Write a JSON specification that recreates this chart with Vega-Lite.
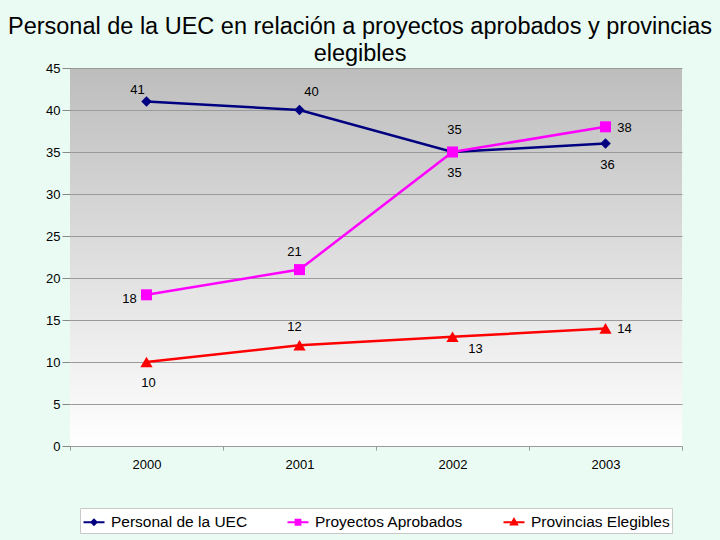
{
  "$schema": "https://vega.github.io/schema/vega-lite/v6.json",
  "width": 612,
  "height": 378,
  "autosize": {"type": "none"},
  "padding": {"left": 70, "top": 68, "right": 38, "bottom": 94},
  "background": "#eafbf3",
  "title": {
    "text": ["Personal de la UEC en relación a proyectos aprobados y provincias", "elegibles"],
    "font": "Liberation Sans",
    "fontSize": 23.5,
    "fontWeight": "normal",
    "color": "#000000",
    "anchor": "middle",
    "dx": -16,
    "offset": -3,
    "lineHeight": 27
  },
  "data": {
    "values": [
      {"year": "2000", "series": "Personal de la UEC", "value": 41},
      {"year": "2001", "series": "Personal de la UEC", "value": 40},
      {"year": "2002", "series": "Personal de la UEC", "value": 35},
      {"year": "2003", "series": "Personal de la UEC", "value": 36},
      {"year": "2000", "series": "Proyectos Aprobados", "value": 18},
      {"year": "2001", "series": "Proyectos Aprobados", "value": 21},
      {"year": "2002", "series": "Proyectos Aprobados", "value": 35},
      {"year": "2003", "series": "Proyectos Aprobados", "value": 38},
      {"year": "2000", "series": "Provincias Elegibles", "value": 10},
      {"year": "2001", "series": "Provincias Elegibles", "value": 12},
      {"year": "2002", "series": "Provincias Elegibles", "value": 13},
      {"year": "2003", "series": "Provincias Elegibles", "value": 14}
    ]
  },
  "encoding": {
    "x": {
      "field": "year",
      "type": "ordinal",
      "scale": {"type": "band", "paddingInner": 0, "paddingOuter": 0},
      "axis": {
        "title": null,
        "labelAngle": 0,
        "labelFont": "Liberation Sans",
        "labelFontSize": 13,
        "labelColor": "#000000",
        "tickBand": "extent",
        "tickColor": "#999999",
        "tickSize": 4,
        "labelPadding": 8,
        "domain": false,
        "grid": false
      }
    },
    "y": {
      "field": "value",
      "type": "quantitative",
      "scale": {"domain": [0, 45], "nice": false},
      "axis": {
        "title": null,
        "values": [0, 5, 10, 15, 20, 25, 30, 35, 40, 45],
        "labelFont": "Liberation Sans",
        "labelFontSize": 13,
        "labelColor": "#000000",
        "tickColor": "#888888",
        "tickSize": 8,
        "labelPadding": 2,
        "domain": false,
        "grid": true,
        "gridColor": "#9a9a9a",
        "gridWidth": 1
      }
    },
    "color": {
      "field": "series",
      "type": "nominal",
      "scale": {
        "domain": ["Personal de la UEC", "Proyectos Aprobados", "Provincias Elegibles"],
        "range": ["#000080", "#ff00ff", "#ff0000"]
      },
      "legend": {
        "title": null,
        "orient": "none",
        "legendX": 10,
        "legendY": 440,
        "direction": "horizontal",
        "columns": 3,
        "columnPadding": 35,
        "labelOffset": 5,
        "symbolSize": 441,
        "symbolStrokeWidth": 2.2,
        "fillColor": "#ffffff",
        "strokeColor": "#c8c8c8",
        "padding": 2,
        "labelFont": "Liberation Sans",
        "labelFontSize": 15.5,
        "labelColor": "#000000",
        "encode": {
          "symbols": {
            "update": {
              "shape": {"signal": "datum.value === 'Personal de la UEC' ? 'M-1,0H1M0,-0.23L0.23,0L0,0.23L-0.23,0Z' : datum.value === 'Proyectos Aprobados' ? 'M-1,0H1M-0.22,-0.22H0.22V0.22H-0.22Z' : 'M-1,0H1M0,-0.29L0.28,0.21H-0.28Z'"},
              "size": {"value": 441},
              "fill": {"scale": "color", "field": "value"},
              "stroke": {"scale": "color", "field": "value"},
              "strokeWidth": {"value": 2.2},
              "opacity": {"value": 1},
              "fillOpacity": {"value": 1},
              "strokeOpacity": {"value": 1}
            }
          }
        }
      }
    }
  },
  "layer": [
    {
      "mark": {"type": "line", "strokeWidth": 2.5}
    },
    {
      "transform": [{"filter": "datum.series === 'Personal de la UEC'"}],
      "mark": {"type": "point", "filled": true, "opacity": 1, "shape": "diamond", "size": 110}
    },
    {
      "transform": [{"filter": "datum.series === 'Proyectos Aprobados'"}],
      "mark": {"type": "point", "filled": true, "opacity": 1, "shape": "square", "size": 121}
    },
    {
      "transform": [{"filter": "datum.series === 'Provincias Elegibles'"}],
      "mark": {"type": "point", "filled": true, "opacity": 1, "shape": "triangle-up", "size": 150}
    },
    {
      "transform": [{"filter": "datum.series === 'Personal de la UEC' && datum.year === '2000'"}],
      "mark": {"type": "text", "font": "Liberation Sans", "fontSize": 13, "dx": -9, "dy": -12, "baseline": "middle"},
      "encoding": {"text": {"field": "value", "type": "quantitative"}, "color": {"value": "#000000"}}
    },
    {
      "transform": [{"filter": "datum.series === 'Personal de la UEC' && datum.year === '2001'"}],
      "mark": {"type": "text", "font": "Liberation Sans", "fontSize": 13, "dx": 12, "dy": -18, "baseline": "middle"},
      "encoding": {"text": {"field": "value", "type": "quantitative"}, "color": {"value": "#000000"}}
    },
    {
      "transform": [{"filter": "datum.series === 'Personal de la UEC' && datum.year === '2002'"}],
      "mark": {"type": "text", "font": "Liberation Sans", "fontSize": 13, "dx": 2, "dy": -22, "baseline": "middle"},
      "encoding": {"text": {"field": "value", "type": "quantitative"}, "color": {"value": "#000000"}}
    },
    {
      "transform": [{"filter": "(datum.series === 'Proyectos Aprobados' || datum.series === 'Provincias Elegibles') && datum.year === '2001'"}],
      "mark": {"type": "text", "font": "Liberation Sans", "fontSize": 13, "dx": -5, "dy": -18, "baseline": "middle"},
      "encoding": {"text": {"field": "value", "type": "quantitative"}, "color": {"value": "#000000"}}
    },
    {
      "transform": [{"filter": "(datum.series === 'Personal de la UEC' && datum.year === '2003') || (datum.series === 'Proyectos Aprobados' && datum.year === '2002') || (datum.series === 'Provincias Elegibles' && datum.year === '2000')"}],
      "mark": {"type": "text", "font": "Liberation Sans", "fontSize": 13, "dx": 2, "dy": 21, "baseline": "middle"},
      "encoding": {"text": {"field": "value", "type": "quantitative"}, "color": {"value": "#000000"}}
    },
    {
      "transform": [{"filter": "datum.series !== 'Personal de la UEC' && datum.year === '2003'"}],
      "mark": {"type": "text", "font": "Liberation Sans", "fontSize": 13, "dx": 19, "dy": 1, "baseline": "middle"},
      "encoding": {"text": {"field": "value", "type": "quantitative"}, "color": {"value": "#000000"}}
    },
    {
      "transform": [{"filter": "datum.series === 'Proyectos Aprobados' && datum.year === '2000'"}],
      "mark": {"type": "text", "font": "Liberation Sans", "fontSize": 13, "dx": -17, "dy": 4, "baseline": "middle"},
      "encoding": {"text": {"field": "value", "type": "quantitative"}, "color": {"value": "#000000"}}
    },
    {
      "transform": [{"filter": "datum.series === 'Provincias Elegibles' && datum.year === '2002'"}],
      "mark": {"type": "text", "font": "Liberation Sans", "fontSize": 13, "dx": 23, "dy": 12, "baseline": "middle"},
      "encoding": {"text": {"field": "value", "type": "quantitative"}, "color": {"value": "#000000"}}
    }
  ],
  "config": {
    "view": {
      "stroke": null,
      "fill": {
        "gradient": "linear",
        "x1": 0, "y1": 0, "x2": 0, "y2": 1,
        "stops": [
          {"offset": 0, "color": "#bdbdbd"},
          {"offset": 1, "color": "#ffffff"}
        ]
      }
    }
  }
}
